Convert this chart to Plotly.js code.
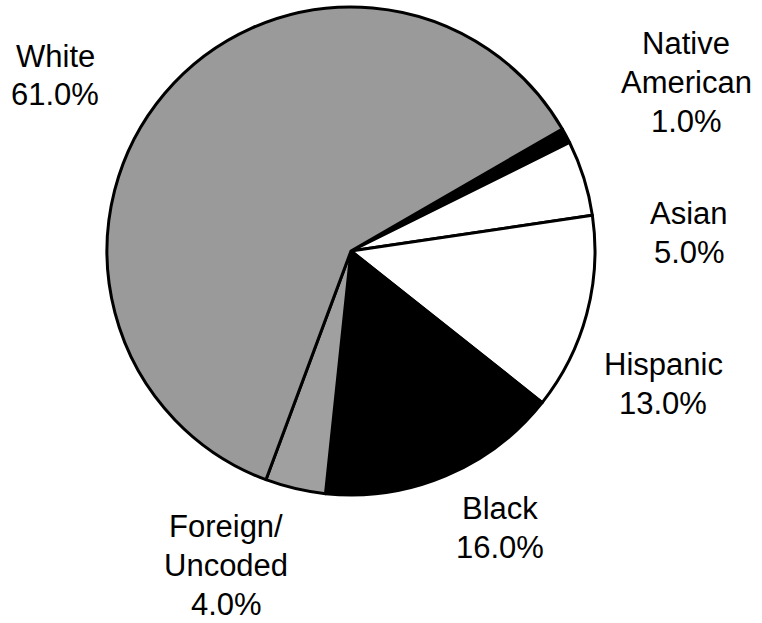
<!DOCTYPE html>
<html>
<head>
<meta charset="utf-8">
<script src="https://cdn.plot.ly/plotly-3.0.1.min.js"></script>
<style>html,body{margin:0;padding:0;background:#fff;}#chart{width:762px;height:623px;}</style>
</head>
<body>
<div id="chart"></div>
<script>
// Data
const categories = ["Native American", "Asian", "Hispanic", "Black", "Foreign/Uncoded", "White"];
const shares = [1.0, 5.0, 13.0, 16.0, 4.0, 61.0];
const labelLines = [["Native", "American"], ["Asian"], ["Hispanic"], ["Black"], ["Foreign/", "Uncoded"], ["White"]];

// Styling
const sliceColors = ["#000000", "#ffffff", "#ffffff", "#000000", "#a0a0a0", "#9a9a9a"];
// label anchor: center x (px) and center y of first line (px)
const labelAnchors = [[686, 43], [689, 213], [663, 364], [500, 508], [226, 526], [55, 56]];
const W = 762, H = 623, lineGap = 39;

const annotations = [];
categories.forEach((c, i) => {
  const lines = labelLines[i].concat([shares[i].toFixed(1) + "%"]);
  lines.forEach((t, k) => {
    annotations.push({
      text: t, xref: "paper", yref: "paper",
      x: labelAnchors[i][0] / W, y: 1 - (labelAnchors[i][1] + k * lineGap) / H,
      xanchor: "center", yanchor: "middle", showarrow: false,
      font: {family: "Liberation Sans, Arial, Helvetica, sans-serif", size: 31, color: "#000"}
    });
  });
});

const cx = 351, cy = 251, r = 244;
const trace = {
  type: "pie",
  labels: categories,
  values: shares,
  sort: false,
  direction: "clockwise",
  rotation: 60,
  textinfo: "none",
  hoverinfo: "label+percent",
  marker: {colors: sliceColors, line: {color: "#000", width: 3}},
  domain: {x: [(cx - r) / W, (cx + r) / W], y: [1 - (cy + r) / H, 1 - (cy - r) / H]},
  showlegend: false
};

Plotly.newPlot("chart", [trace], {
  width: W, height: H,
  margin: {l: 0, r: 0, t: 0, b: 0},
  paper_bgcolor: "#fff",
  showlegend: false,
  annotations: annotations
}, {displayModeBar: false, staticPlot: true});
</script>
</body>
</html>
